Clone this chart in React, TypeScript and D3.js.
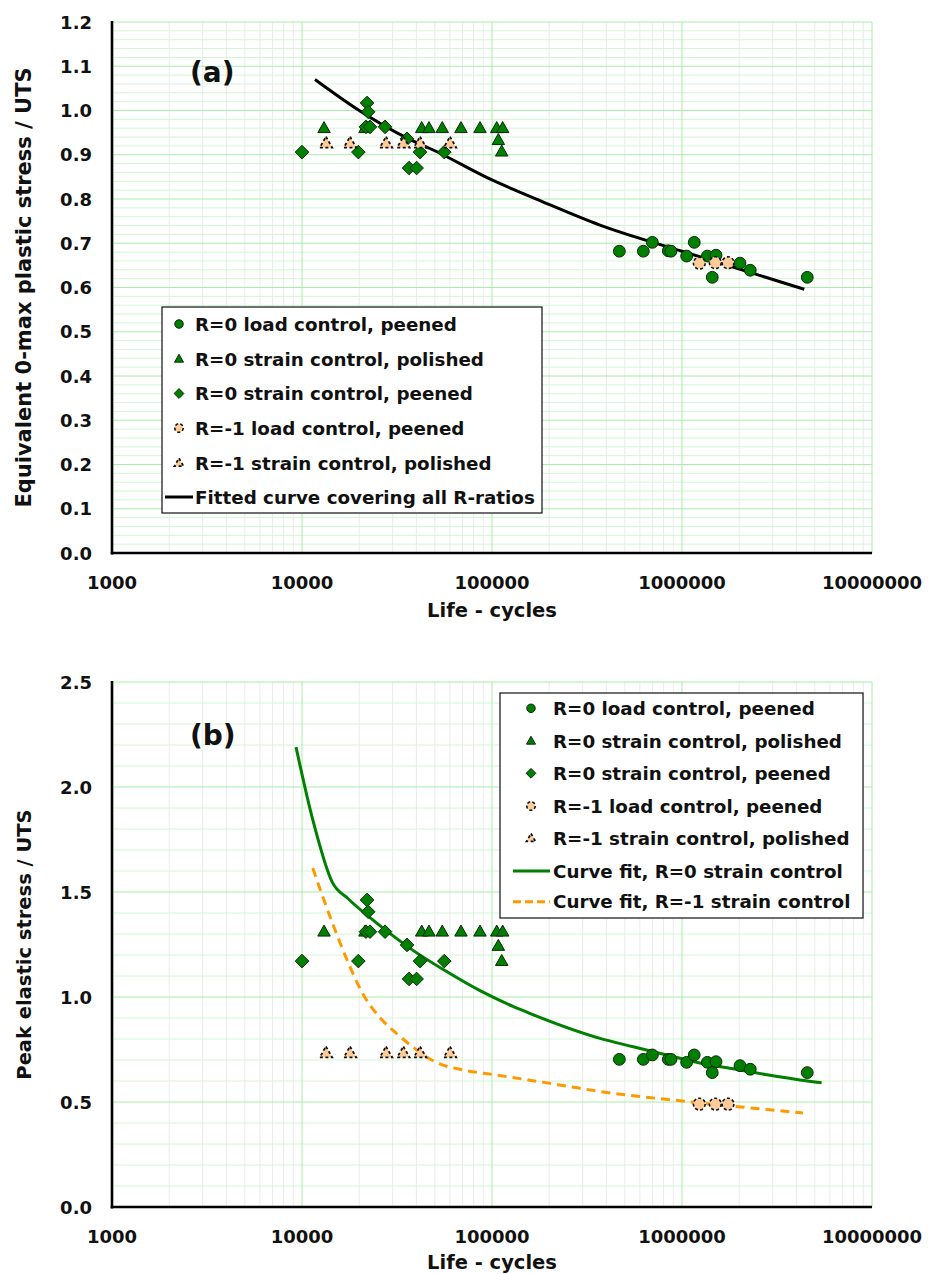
import React from "react";
import * as d3 from "d3";

// ---------- data ----------
// Life (cycles) for each series, shared between panels
const lifeLoadPeenedR0 = [468000, 626000, 698000, 847000, 875000, 1058000, 1160000, 1360000, 1510000, 1443000, 2020000, 2287000, 4563000];
const valA_LoadPeenedR0 = [0.682, 0.682, 0.702, 0.683, 0.682, 0.671, 0.702, 0.671, 0.673, 0.623, 0.655, 0.639, 0.623];
const valB_LoadPeenedR0 = [0.703, 0.703, 0.724, 0.703, 0.703, 0.689, 0.724, 0.689, 0.692, 0.640, 0.673, 0.656, 0.640];

const lifeStrainPolishedR0 = [13060, 21460, 42660, 46600, 54730, 68660, 86450, 105900, 113800, 108000, 112500];
const valA_StrainPolishedR0 = [0.96, 0.96, 0.96, 0.96, 0.96, 0.96, 0.96, 0.96, 0.96, 0.933, 0.907];
const valB_StrainPolishedR0 = [1.311, 1.311, 1.311, 1.311, 1.311, 1.311, 1.311, 1.311, 1.311, 1.243, 1.171];

const lifeStrainPeenedR0 = [22000, 22300, 21700, 22800, 27350, 35700, 10000, 19800, 41800, 56100, 36600, 40100];
const valA_StrainPeenedR0 = [1.017, 0.997, 0.963, 0.963, 0.963, 0.936, 0.906, 0.906, 0.906, 0.906, 0.87, 0.87];
const valB_StrainPeenedR0 = [1.462, 1.406, 1.311, 1.311, 1.311, 1.248, 1.171, 1.171, 1.171, 1.171, 1.086, 1.086];

const lifeLoadPeenedRm1 = [1233000, 1497000, 1746000];
const valA_LoadPeenedRm1 = [0.655, 0.656, 0.656];
const valB_LoadPeenedRm1 = [0.49, 0.49, 0.49];

const lifeStrainPolishedRm1 = [13370, 17900, 27680, 34150, 41800, 60100];
const valA_StrainPolishedRm1 = [0.926, 0.926, 0.926, 0.926, 0.926, 0.926];
const valB_StrainPolishedRm1 = [0.733, 0.733, 0.733, 0.733, 0.733, 0.733];

// Fitted curves
const fitAllLife = [11700, 20000, 35600, 50000, 100000, 180000, 370000, 1000000, 4400000];
const fitAllVal = [1.07, 1.0, 0.938, 0.909, 0.843, 0.796, 0.741, 0.682, 0.596];

const fitR0Life = [9300, 11400, 14400, 17500, 22300, 29000, 38400, 58000, 86500, 129000, 158000, 370000, 554000, 830000, 1240000, 1860000, 2790000, 4180000, 5430000];
const fitR0Val = [2.19, 1.843, 1.548, 1.468, 1.385, 1.303, 1.222, 1.12, 1.03, 0.955, 0.922, 0.803, 0.763, 0.724, 0.686, 0.658, 0.63, 0.605, 0.592];

const fitRm1Life = [11400, 12900, 14600, 17500, 20900, 25700, 31600, 38400, 45500, 51400, 70300, 106000, 158000, 250000, 370000, 1000000, 4330000];
const fitRm1Val = [1.614, 1.474, 1.342, 1.164, 1.015, 0.902, 0.825, 0.761, 0.713, 0.687, 0.653, 0.628, 0.604, 0.575, 0.55, 0.505, 0.448];

const xTicks = [1000, 10000, 100000, 1000000, 10000000];
const yTicksA = [0, 0.1, 0.2, 0.3, 0.4, 0.5, 0.6, 0.7, 0.8, 0.9, 1.0, 1.1, 1.2];
const yTicksB = [0, 0.5, 1.0, 1.5, 2.0, 2.5];

const legendA = [
  "R=0 load control, peened",
  "R=0 strain control, polished",
  "R=0 strain control, peened",
  "R=-1 load control, peened",
  "R=-1 strain control, polished",
  "Fitted curve covering all R-ratios",
];
const legendB = [
  "R=0 load control, peened",
  "R=0 strain control, polished",
  "R=0 strain control, peened",
  "R=-1 load control, peened",
  "R=-1 strain control, polished",
  "Curve fit, R=0 strain control",
  "Curve fit, R=-1 strain control",
];

// ---------- styles ----------
const FONT = "'DejaVu Sans', Verdana, sans-serif";
const GREEN = "#007f00";
const PEACH = "#ffcc99";
const ORANGE = "#ff9900";
const GRID_MAJOR = "#a6eea6";
const GRID_MINOR_H = "#d2f7d2";
const GRID_MINOR_V = "#ebebeb";

type MarkerKind = "circle" | "triangle" | "diamond" | "pcircle" | "ptriangle";

function Marker({ kind, x, y, s = 1 }: { kind: MarkerKind; x: number; y: number; s?: number }) {
  if (kind === "circle") {
    return <circle cx={x} cy={y} r={5.9 * s} fill={GREEN} stroke="#0a2a0a" strokeWidth={1} />;
  }
  if (kind === "pcircle") {
    return <circle cx={x} cy={y} r={5.9 * s} fill={PEACH} stroke="#111" strokeWidth={1.6} strokeDasharray="3,2.2" />;
  }
  if (kind === "triangle" || kind === "ptriangle") {
    const h = 11 * s, w = 12.5 * s;
    const p = `${x},${y - h * 0.6} ${x + w / 2},${y + h * 0.4} ${x - w / 2},${y + h * 0.4}`;
    return kind === "triangle" ? (
      <polygon points={p} fill={GREEN} stroke="#0a2a0a" strokeWidth={1} />
    ) : (
      <polygon points={p} fill={PEACH} stroke="#111" strokeWidth={1.8} strokeDasharray="3,2.5" />
    );
  }
  const r = 6.8 * s;
  const p = `${x},${y - r} ${x + r},${y} ${x},${y + r} ${x - r},${y}`;
  return <polygon points={p} fill={GREEN} stroke="#0a2a0a" strokeWidth={1} />;
}

interface Panel {
  top: number;
  bottom: number;
  yMax: number;
  yTicks: number[];
  minorStep: number;
  majorStep: number;
}

const LEFT = 112;
const RIGHT = 872;

function Grid({ p, y }: { p: Panel; y: d3.ScaleLinear<number, number> }) {
  const x = d3.scaleLog().domain([1e3, 1e7]).range([LEFT, RIGHT]);
  const minorV: number[] = [];
  for (let d = 1e3; d < 1e7; d *= 10) for (let k = 2; k <= 9; k++) minorV.push(k * d);
  const nMinor = Math.round(p.yMax / p.minorStep);
  const hLines = d3.range(0, nMinor + 1).map((i) => i * p.minorStep);
  return (
    <g>
      {minorV.map((v) => (
        <line key={"mv" + v} x1={x(v)} x2={x(v)} y1={p.top} y2={p.bottom} stroke={GRID_MINOR_V} strokeWidth={1} />
      ))}
      {hLines.map((v, i) => {
        const major = Math.abs(v / p.majorStep - Math.round(v / p.majorStep)) < 1e-6;
        return (
          <line key={"h" + i} x1={LEFT} x2={RIGHT} y1={y(v)} y2={y(v)} stroke={major ? GRID_MAJOR : GRID_MINOR_H} strokeWidth={1} />
        );
      })}
      {xTicks.map((v) => (
        <line key={"Mv" + v} x1={x(v)} x2={x(v)} y1={p.top} y2={p.bottom} stroke={GRID_MAJOR} strokeWidth={1} />
      ))}
    </g>
  );
}

function Axes({ p, y, yTitle, xTitleY, yTitleSize }: { p: Panel; y: d3.ScaleLinear<number, number>; yTitle: string; xTitleY: number; yTitleSize: number }) {
  const x = d3.scaleLog().domain([1e3, 1e7]).range([LEFT, RIGHT]);
  const fmt = (v: number) => v.toFixed(1);
  return (
    <g fontFamily={FONT} fontWeight="bold" fill="#111">
      <line x1={LEFT} x2={LEFT} y1={p.top - 1} y2={p.bottom + 1.5} stroke="#000" strokeWidth={2.6} />
      <line x1={LEFT - 1.3} x2={RIGHT} y1={p.bottom} y2={p.bottom} stroke="#000" strokeWidth={2.6} />
      {p.yTicks.map((v) => (
        <text key={"yt" + v} x={92} y={y(v)} textAnchor="end" dominantBaseline="central" fontSize={18}>
          {fmt(v)}
        </text>
      ))}
      {xTicks.map((v) => (
        <text key={"xt" + v} x={x(v)} y={p.bottom + 29} textAnchor="middle" dominantBaseline="central" fontSize={18}>
          {String(v)}
        </text>
      ))}
      <text x={492} y={xTitleY} textAnchor="middle" dominantBaseline="central" fontSize={19.5}>
        Life - cycles
      </text>
      <text
        transform={`translate(24,${(p.top + p.bottom) / 2}) rotate(-90)`}
        textAnchor="middle"
        dominantBaseline="central"
        fontSize={yTitleSize}
      >
        {yTitle}
      </text>
    </g>
  );
}

function Points({ life, vals, kind, y }: { life: number[]; vals: number[]; kind: MarkerKind; y: d3.ScaleLinear<number, number> }) {
  const x = d3.scaleLog().domain([1e3, 1e7]).range([LEFT, RIGHT]);
  return (
    <g>
      {life.map((n, i) => (
        <Marker key={i} kind={kind} x={x(n)} y={y(vals[i])} />
      ))}
    </g>
  );
}

function Curve({ life, vals, y, stroke, dash }: { life: number[]; vals: number[]; y: d3.ScaleLinear<number, number>; stroke: string; dash?: string }) {
  const x = d3.scaleLog().domain([1e3, 1e7]).range([LEFT, RIGHT]);
  const line = d3
    .line<number>()
    .x((n) => x(n))
    .y((_, i) => y(vals[i]))
    .curve(d3.curveMonotoneX);
  return <path d={line(life) || ""} fill="none" stroke={stroke} strokeWidth={3} strokeDasharray={dash} strokeLinecap="butt" />;
}

function Legend({
  x0, y0, w, h, rows, labels, textX, markX,
}: {
  x0: number; y0: number; w: number; h: number; rows: number[]; labels: string[]; textX: number; markX: number;
}) {
  const kinds: MarkerKind[] = ["circle", "triangle", "diamond", "pcircle", "ptriangle"];
  return (
    <g fontFamily={FONT} fontWeight="bold" fill="#111">
      <rect x={x0} y={y0} width={w} height={h} fill="#fff" stroke="#222" strokeWidth={1.3} />
      {labels.map((lab, i) => {
        const yy = rows[i];
        let sym: React.ReactNode = null;
        if (i < 5) sym = <Marker kind={kinds[i]} x={markX} y={yy} s={0.72} />;
        else if (labels.length === 6) sym = <line x1={x0 + 3} x2={textX - 2} y1={yy} y2={yy} stroke="#000" strokeWidth={3} />;
        else if (i === 5) sym = <line x1={x0 + 13} x2={textX - 3} y1={yy} y2={yy} stroke={GREEN} strokeWidth={3} />;
        else sym = <line x1={x0 + 13} x2={textX - 3} y1={yy} y2={yy} stroke={ORANGE} strokeWidth={3} strokeDasharray="8,4" />;
        return (
          <g key={i}>
            {sym}
            <text x={textX} y={yy} dominantBaseline="central" fontSize={18.3}>
              {lab}
            </text>
          </g>
        );
      })}
    </g>
  );
}

export default function App() {
  const pA: Panel = { top: 22, bottom: 553, yMax: 1.2, yTicks: yTicksA, minorStep: 0.02, majorStep: 0.1 };
  const pB: Panel = { top: 682, bottom: 1207, yMax: 2.5, yTicks: yTicksB, minorStep: 0.1, majorStep: 0.5 };
  const yA = d3.scaleLinear().domain([0, 1.2]).range([pA.bottom, pA.top]);
  const yB = d3.scaleLinear().domain([0, 2.5]).range([pB.bottom, pB.top]);

  return (
    <svg width={928} height={1274} style={{ position: "absolute", left: 0, top: 0, background: "#fff" }}>
      <rect x={0} y={0} width={928} height={1274} fill="#fff" />
      {/* Panel (a) */}
      <Grid p={pA} y={yA} />
      <Curve life={fitAllLife} vals={fitAllVal} y={yA} stroke="#000" />
      <Points life={lifeLoadPeenedR0} vals={valA_LoadPeenedR0} kind="circle" y={yA} />
      <Points life={lifeStrainPolishedR0} vals={valA_StrainPolishedR0} kind="triangle" y={yA} />
      <Points life={lifeStrainPeenedR0} vals={valA_StrainPeenedR0} kind="diamond" y={yA} />
      <Points life={lifeLoadPeenedRm1} vals={valA_LoadPeenedRm1} kind="pcircle" y={yA} />
      <Points life={lifeStrainPolishedRm1} vals={valA_StrainPolishedRm1} kind="ptriangle" y={yA} />
      <Axes p={pA} y={yA} yTitle="Equivalent 0-max plastic stress / UTS" xTitleY={610} yTitleSize={21} />
      <text x={190} y={72} fontFamily={FONT} fontWeight="bold" fontSize={28} dominantBaseline="central" fill="#111">
        (a)
      </text>
      <Legend x0={162} y0={307} w={380} h={206} rows={[324, 359, 393.5, 428, 463, 497]} labels={legendA} textX={195} markX={179} />

      {/* Panel (b) */}
      <Grid p={pB} y={yB} />
      <Curve life={fitR0Life} vals={fitR0Val} y={yB} stroke={GREEN} />
      <Curve life={fitRm1Life} vals={fitRm1Val} y={yB} stroke={ORANGE} dash="9,6" />
      <Points life={lifeLoadPeenedR0} vals={valB_LoadPeenedR0} kind="circle" y={yB} />
      <Points life={lifeStrainPolishedR0} vals={valB_StrainPolishedR0} kind="triangle" y={yB} />
      <Points life={lifeStrainPeenedR0} vals={valB_StrainPeenedR0} kind="diamond" y={yB} />
      <Points life={lifeLoadPeenedRm1} vals={valB_LoadPeenedRm1} kind="pcircle" y={yB} />
      <Points life={lifeStrainPolishedRm1} vals={valB_StrainPolishedRm1} kind="ptriangle" y={yB} />
      <Axes p={pB} y={yB} yTitle="Peak elastic stress / UTS" xTitleY={1262} yTitleSize={19.5} />
      <text x={190} y={735} fontFamily={FONT} fontWeight="bold" fontSize={28} dominantBaseline="central" fill="#111">
        (b)
      </text>
      <Legend x0={500} y0={693} w={363} h={225} rows={[708.3, 741, 773.3, 806, 838.3, 871, 901.7]} labels={legendB} textX={553} markX={531} />
    </svg>
  );
}
